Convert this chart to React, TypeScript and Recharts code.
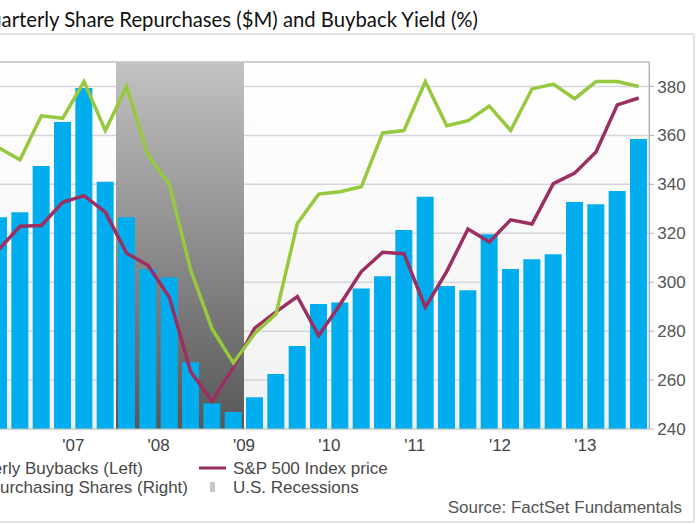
import { ComposedChart, Bar, Line, XAxis, YAxis, CartesianGrid, ReferenceArea, ReferenceLine } from 'recharts'

// the picture is a crop: the chart's left edge (and left axis) sit off-page
const quarters = [
  'Q3 2006', 'Q4 2006',
  'Q1 2007', 'Q2 2007', 'Q3 2007', 'Q4 2007',
  'Q1 2008', 'Q2 2008', 'Q3 2008', 'Q4 2008',
  'Q1 2009', 'Q2 2009', 'Q3 2009', 'Q4 2009',
  'Q1 2010', 'Q2 2010', 'Q3 2010', 'Q4 2010',
  'Q1 2011', 'Q2 2011', 'Q3 2011', 'Q4 2011',
  'Q1 2012', 'Q2 2012', 'Q3 2012', 'Q4 2012',
  'Q1 2013', 'Q2 2013', 'Q3 2013', 'Q4 2013',
  'Q1 2014',
]

// quarterly buybacks, $M (left axis, not visible in the crop)
const buybacks = [
  115400, 118100,
  143300, 167300, 185800, 134800,
  115400, 87200, 82500, 36400,
  14000, 9300, 17300, 30000,
  45200, 68100, 69000, 76500,
  83200, 108500, 126600, 77900,
  75600, 106100, 87200, 92500,
  95200, 123700, 122500, 129700,
  158000,
]

// number of companies buying back shares (right axis)
const companies = [
  355, 350,
  368, 367, 382, 362,
  380, 352, 340, 305,
  281, 267, 279, 287,
  324, 336, 337, 339,
  361, 362, 382, 364,
  366, 372, 362, 379,
  381, 375, 382, 382,
  380,
]

// S&P 500 quarter-end close
const spPrice = [
  1335.85, 1418.3,
  1420.86, 1503.35, 1526.75, 1468.36,
  1322.7, 1280.0, 1166.36, 903.25,
  797.87, 919.32, 1057.08, 1115.1,
  1169.43, 1030.71, 1141.2, 1257.64,
  1325.83, 1320.64, 1131.42, 1257.6,
  1408.47, 1362.16, 1440.67, 1426.19,
  1569.19, 1606.28, 1681.55, 1848.36,
  1872.34,
]

const yearStarts = ['Q1 2007', 'Q1 2008', 'Q1 2009', 'Q1 2010', 'Q1 2011', 'Q1 2012', 'Q1 2013', 'Q1 2014']
const yearLabels = ["'07", "'08", "'09", "'10", "'11", "'12", "'13"]
const recession = ['Q1 2008', 'Q2 2009']
const rightTicks = [240, 260, 280, 300, 320, 340, 360, 380]

const FONT = '"Liberation Sans", Arial, Helvetica, sans-serif'
const BLUE = '#00aeef'
const GREEN = '#96c93d'
const PURPLE = '#9b2f62'
const GRID = '#d6d4de'

const SLOT = 21.333
const PLOT_LEFT = 31 - 2 * SLOT
const PLOT_W = SLOT * quarters.length
const AXIS_W = 50
const CHART_W = 712

const data = quarters.map((q, i) => ({
  i,
  quarter: q,
  buybacks: buybacks[i],
  companies: companies[i],
  sp: spPrice[i],
}))

const boundaries = yearStarts.map((q) => quarters.indexOf(q) - 0.5)
const labelTicks = yearLabels.map((_, k) => quarters.indexOf(yearStarts[k]) + 1.5)
const xDomain = [-0.5, quarters.length - 0.5]

function Legend() {
  const text = { fontFamily: FONT, fontSize: 17, fill: '#484848' }
  return (
    <svg width={700} height={525} style={{ position: 'absolute', left: 0, top: 0 }}>
      <text x={478} y={27} textAnchor="end" fontFamily="Lato, 'Open Sans', sans-serif" fontSize={20.3} fill="#111">
        Quarterly Share Repurchases ($M) and Buyback Yield (%)
      </text>
      <line x1={0} x2={694} y1={34} y2={34} stroke="#d8d8e0" strokeWidth={1.5} />
      <line x1={694} x2={694} y1={34} y2={522} stroke="#d8d8e0" strokeWidth={1.5} />
      <line x1={0} x2={694} y1={522} y2={522} stroke="#d8d8e0" strokeWidth={1.5} />

      <rect x={-70} y={461} width={12} height={12} fill={BLUE} />
      <text x={143} y={474} textAnchor="end" {...text}>Quarterly Buybacks (Left)</text>
      <line x1={-110} x2={-84} y1={487} y2={487} stroke={GREEN} strokeWidth={3} />
      <text x={188} y={493} textAnchor="end" {...text}># of Companies Repurchasing Shares (Right)</text>

      <line x1={199} x2={226} y1={468} y2={468} stroke={PURPLE} strokeWidth={3} />
      <text x={233} y={474} {...text}>S&amp;P 500 Index price</text>
      <rect x={210} y={482} width={5} height={10} fill="#c8c8c8" />
      <text x={233} y={493} {...text}>U.S. Recessions</text>

      <text x={682} y={513} textAnchor="end" {...text} fill="#555">Source: FactSet Fundamentals</text>
    </svg>
  )
}

export default function App() {
  return (
    <div style={{ position: 'absolute', left: 0, top: 0, width: 700, height: 525, overflow: 'hidden', background: '#fff' }}>
      <div style={{ position: 'absolute', left: PLOT_LEFT, top: 52 }}>
        <ComposedChart
          width={CHART_W}
          height={413}
          data={data}
          margin={{ top: 10, right: CHART_W - PLOT_W - AXIS_W, bottom: 0, left: 0 }}
        >
          <defs>
            <linearGradient id="plotBg" x1="0" y1="0" x2="0" y2="1">
              <stop offset="0%" stopColor="#ffffff" />
              <stop offset="100%" stopColor="#f1f1f1" />
            </linearGradient>
            <linearGradient id="recess" x1="0" y1="0" x2="0" y2="1">
              <stop offset="0%" stopColor="#c2c2c2" />
              <stop offset="100%" stopColor="#575757" />
            </linearGradient>
          </defs>
          <CartesianGrid
            xAxisId="q"
            yAxisId="companies"
            stroke={GRID}
            strokeWidth={1.5}
            fill="url(#plotBg)"
            fillOpacity={1}
          />
          <XAxis
            xAxisId="q"
            dataKey="i"
            type="number"
            domain={xDomain}
            ticks={boundaries}
            interval={0}
            height={6}
            tick={false}
            tickSize={5}
            tickLine={{ stroke: '#b4b4b4' }}
            axisLine={{ stroke: '#c4c4c4' }}
          />
          <XAxis
            xAxisId="yr"
            dataKey="i"
            type="number"
            domain={xDomain}
            ticks={labelTicks}
            interval={0}
            height={30}
            tickSize={0}
            tickMargin={4}
            axisLine={false}
            tickLine={false}
            tickFormatter={(v) => yearLabels[labelTicks.indexOf(v)]}
            tick={{ fontFamily: FONT, fontSize: 17, fill: '#444' }}
          />
          <YAxis yAxisId="buybacks" hide domain={[0, 200000]} />
          <YAxis yAxisId="sp" hide domain={[700, 2000]} />
          <YAxis
            yAxisId="companies"
            orientation="right"
            domain={[240, 390]}
            ticks={rightTicks}
            interval={0}
            width={AXIS_W}
            tickSize={5}
            tickMargin={3}
            axisLine={{ stroke: '#a8a8a8' }}
            tickLine={{ stroke: '#b4b4b4' }}
            tick={{ fontFamily: FONT, fontSize: 17, fill: '#555' }}
          />
          <ReferenceLine xAxisId="q" yAxisId="companies" y={390} stroke="#c8c8d0" strokeWidth={1.5} />
          <ReferenceArea
            xAxisId="q"
            yAxisId="companies"
            x1={quarters.indexOf(recession[0]) - 0.5}
            x2={quarters.indexOf(recession[1]) + 0.5}
            fill="url(#recess)"
            fillOpacity={1}
            stroke="none"
          />
          <Bar xAxisId="q" yAxisId="buybacks" dataKey="buybacks" fill={BLUE} barSize={17} isAnimationActive={false} />
          <Line
            xAxisId="q"
            yAxisId="sp"
            dataKey="sp"
            type="linear"
            stroke={PURPLE}
            strokeWidth={3.5}
            dot={false}
            isAnimationActive={false}
          />
          <Line
            xAxisId="q"
            yAxisId="companies"
            dataKey="companies"
            type="linear"
            stroke={GREEN}
            strokeWidth={3.5}
            dot={false}
            isAnimationActive={false}
          />
        </ComposedChart>
      </div>
      <Legend />
    </div>
  )
}
